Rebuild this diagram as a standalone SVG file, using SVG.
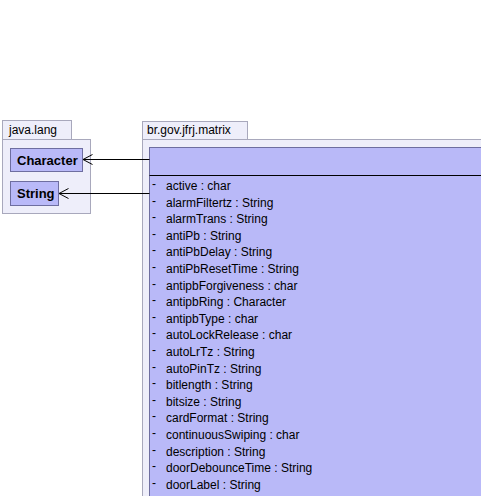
<svg xmlns="http://www.w3.org/2000/svg" width="481" height="496" viewBox="0 0 481 496">
<defs>
<style>
.pkg{fill:#eeeefa;stroke:#a8a8bc;stroke-width:1}
.cls{fill:#b9b9f8;stroke:#6e6ea0;stroke-width:1}
.ptxt{font-family:"Liberation Sans",Arial,sans-serif;font-size:12px;fill:#000}
.ctxt{font-family:"Liberation Sans",Arial,sans-serif;font-size:13px;font-weight:bold;fill:#000}
.attr{font-family:"Liberation Sans",Arial,sans-serif;font-size:12px;fill:#000}
.conn{stroke:#000;stroke-width:1;fill:none}
</style>
<marker id="open" viewBox="0 0 12 12" refX="10.5" refY="6" markerWidth="12" markerHeight="12" markerUnits="userSpaceOnUse" orient="auto">
<path d="M1,1 L10.5,6 L1,11" fill="none" stroke="#000" stroke-width="1"/>
</marker>
</defs>
<rect width="481" height="496" fill="#ffffff"/>
<g id="pkg-java-lang">
<rect class="pkg" x="2.5" y="120.5" width="69" height="19"/>
<rect class="pkg" x="2.5" y="139.5" width="88" height="74"/>
<text class="ptxt" x="9" y="134">java.lang</text>
</g>
<g id="pkg-br-gov-jfrj-matrix">
<rect class="pkg" x="142.5" y="121.5" width="105" height="18"/>
<rect class="pkg" x="142.5" y="139.5" width="360" height="380"/>
<text class="ptxt" x="147" y="134">br.gov.jfrj.matrix</text>
</g>
<g id="node-Character">
<rect class="cls" x="10.5" y="148.5" width="72" height="23"/>
<text class="ctxt" x="17" y="164.5">Character</text>
</g>
<g id="node-String">
<rect class="cls" x="10.5" y="181.5" width="48" height="24"/>
<text class="ctxt" x="17" y="198">String</text>
</g>
<g id="node-matrix-class">
<rect class="cls" x="149.5" y="147.5" width="350" height="370"/>
<line x1="149.5" y1="175.5" x2="499.5" y2="175.5" stroke="#000" stroke-width="1"/>
<g class="attr">
<text x="152" y="188">-</text><text x="166" y="190">active : char</text>
<text x="152" y="204.6">-</text><text x="166" y="206.6">alarmFiltertz : String</text>
<text x="152" y="221.2">-</text><text x="166" y="223.2">alarmTrans : String</text>
<text x="152" y="237.8">-</text><text x="166" y="239.8">antiPb : String</text>
<text x="152" y="254.4">-</text><text x="166" y="256.4">antiPbDelay : String</text>
<text x="152" y="271">-</text><text x="166" y="273">antiPbResetTime : String</text>
<text x="152" y="287.6">-</text><text x="166" y="289.6">antipbForgiveness : char</text>
<text x="152" y="304.2">-</text><text x="166" y="306.2">antipbRing : Character</text>
<text x="152" y="320.8">-</text><text x="166" y="322.8">antipbType : char</text>
<text x="152" y="337.4">-</text><text x="166" y="339.4">autoLockRelease : char</text>
<text x="152" y="354">-</text><text x="166" y="356">autoLrTz : String</text>
<text x="152" y="370.6">-</text><text x="166" y="372.6">autoPinTz : String</text>
<text x="152" y="387.2">-</text><text x="166" y="389.2">bitlength : String</text>
<text x="152" y="403.8">-</text><text x="166" y="405.8">bitsize : String</text>
<text x="152" y="420.4">-</text><text x="166" y="422.4">cardFormat : String</text>
<text x="152" y="437">-</text><text x="166" y="439">continuousSwiping : char</text>
<text x="152" y="453.6">-</text><text x="166" y="455.6">description : String</text>
<text x="152" y="470.2">-</text><text x="166" y="472.2">doorDebounceTime : String</text>
<text x="152" y="486.8">-</text><text x="166" y="488.8">doorLabel : String</text>
</g>
</g>
<g id="connectors">
<line class="conn" x1="149.5" y1="159.5" x2="83" y2="159.5" marker-end="url(#open)"/>
<line class="conn" x1="149.5" y1="193.5" x2="59" y2="193.5" marker-end="url(#open)"/>
</g>
</svg>
